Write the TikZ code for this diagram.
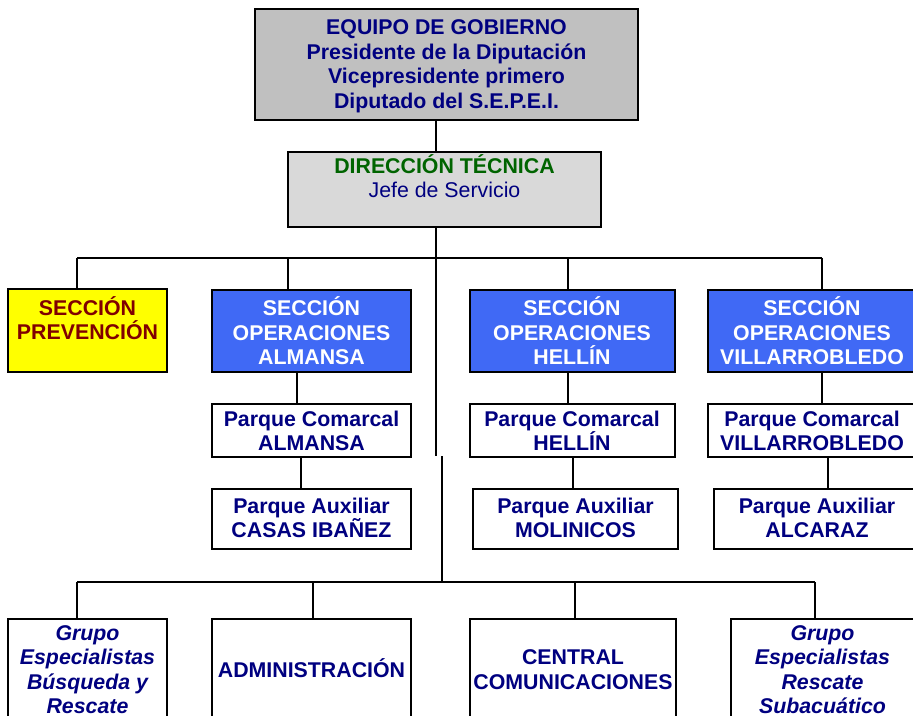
\documentclass[tikz,border=0pt]{standalone}
\usepackage{fontspec}
\setmainfont{Liberation Sans}
\usetikzlibrary{fit}
\definecolor{navy}{HTML}{000080}
\definecolor{dkgreen}{HTML}{006400}
\definecolor{dkred}{HTML}{800000}
\definecolor{gray1}{HTML}{C0C0C0}
\definecolor{gray2}{HTML}{D9D9D9}
\definecolor{secblue}{HTML}{4069F5}
\definecolor{yel}{HTML}{FFFF00}
\begin{document}
\begin{tikzpicture}[x=0.75pt,y=-0.75pt,
  box/.style={draw=black, line width=1.7pt, inner sep=0pt},
  txt/.style={align=center, inner sep=0pt, text=navy,
    font=\fontsize{16}{18.4}\selectfont\bfseries},
  wtxt/.style={txt, text=white},
  itxt/.style={txt, font=\fontsize{16}{18.4}\selectfont\bfseries\itshape},
  link/.style={line width=1.7pt}]
\clip (0,0) rectangle (913,716);
\fill[white] (0,0) rectangle (913,716);
% boxes
\node[box, fill=gray1, fit={(255,9) (638,120)}] (EG) {};
\node[box, fill=gray2, fit={(288,152) (601,227)}] (DT) {};
\node[box, fill=yel, fit={(8,289) (167,372)}] (PRE) {};
\node[box, fill=secblue, fit={(212,290) (411,372)}] (ALM) {};
\node[box, fill=secblue, fit={(470,290) (675,372)}] (HEL) {};
\node[box, fill=secblue, fit={(708,290) (916,372)}] (VIL) {};
\node[box, fit={(212,404) (411,457)}] (ALMC) {};
\node[box, fit={(470,404) (675,457)}] (HELC) {};
\node[box, fit={(708,404) (916,457)}] (VILC) {};
\node[box, fit={(212,489) (411,549)}] (ALMA) {};
\node[box, fit={(473,489) (678,549)}] (HELA) {};
\node[box, fit={(714,489) (920,549)}] (VILA) {};
\node[box, fit={(8,619) (167,735)}] (GBR) {};
\node[box, fit={(212,619) (411,735)}] (ADM) {};
\node[box, fit={(470,619) (676,735)}] (CEN) {};
\node[box, fit={(731,619) (914,735)}] (GRS) {};
% texts
\node[txt] (EGt) at (446.5,66.5) {EQUIPO DE GOBIERNO\\Presidente de la Diputación\\Vicepresidente primero\\Diputado del S.E.P.E.I.};
\node[txt] (DTt) at (444.5,176) {\textcolor{dkgreen}{DIRECCIÓN TÉCNICA}\\\mdseries Jefe de Servicio};
\node[txt, text=dkred] (PREt) at (87.5,318) {SECCIÓN\\PREVENCIÓN};
\node[wtxt] (ALMt) at (311.5,331) {SECCIÓN\\OPERACIONES\\ALMANSA};
\node[wtxt] (HELt) at (572,331) {SECCIÓN\\OPERACIONES\\HELLÍN};
\node[wtxt] (VILt) at (812,331) {SECCIÓN\\OPERACIONES\\VILLARROBLEDO};
\node[txt] (ALMCt) at (311.5,431) {Parque Comarcal\\ALMANSA};
\node[txt] (HELCt) at (572,431) {Parque Comarcal\\HELLÍN};
\node[txt] (VILCt) at (812,431) {Parque Comarcal\\VILLARROBLEDO};
\node[txt] (ALMAt) at (311.5,518) {Parque Auxiliar\\CASAS IBAÑEZ};
\node[txt] (HELAt) at (575.5,518) {Parque Auxiliar\\MOLINICOS};
\node[txt] (VILAt) at (817,518) {Parque Auxiliar\\ALCARAZ};
\node[itxt] (GBRt) at (87.5,669.5) {Grupo\\Especialistas\\Búsqueda y\\Rescate};
\node[txt] (ADMt) at (311.5,668) {ADMINISTRACIÓN};
\node[txt] (CENt) at (573,669.5) {CENTRAL\\COMUNICACIONES};
\node[itxt] (GRSt) at (822.5,669.5) {Grupo\\Especialistas\\Rescate\\Subacuático};
% connector coordinates
\coordinate (sp) at (436,0);
\coordinate (jA) at (436,456);
\coordinate (jB) at (442,456);
\coordinate (busL) at (77,258);
\coordinate (busR) at (822,258);
\coordinate (bus2L) at (77,582);
\coordinate (bus2R) at (815,582);
\coordinate (xa) at (288,0);
\coordinate (xh) at (568,0);
\coordinate (xac) at (297,0);
\coordinate (xaa) at (301,0);
\coordinate (xhc) at (568,0);
\coordinate (xha) at (573,0);
\coordinate (xvc) at (822,0);
\coordinate (xva) at (828,0);
\coordinate (xadm) at (313,0);
\coordinate (xcen) at (575,0);
% connectors
\draw[link] (EG.south -| sp) -- (DT.north -| sp);
\draw[link] (DT.south -| sp) -- (jA);
\draw[link] (jB) -- (jB |- bus2L);
\draw[link] (busL) -- (busR);
\draw[link] (busL) -- (busL |- PRE.north);
\draw[link] (busL -| xa) -- (ALM.north -| xa);
\draw[link] (busL -| xh) -- (HEL.north -| xh);
\draw[link] (busR) -- (busR |- VIL.north);
\draw[link] (ALM.south -| xac) -- (ALMC.north -| xac);
\draw[link] (ALMC.south -| xaa) -- (ALMA.north -| xaa);
\draw[link] (HEL.south -| xhc) -- (HELC.north -| xhc);
\draw[link] (HELC.south -| xha) -- (HELA.north -| xha);
\draw[link] (VIL.south -| xvc) -- (VILC.north -| xvc);
\draw[link] (VILC.south -| xva) -- (VILA.north -| xva);
\draw[link] (bus2L) -- (bus2R);
\draw[link] (bus2L) -- (bus2L |- GBR.north);
\draw[link] (bus2L -| xadm) -- (ADM.north -| xadm);
\draw[link] (bus2L -| xcen) -- (CEN.north -| xcen);
\draw[link] (bus2R) -- (bus2R |- GRS.north);
\end{tikzpicture}
\end{document}
